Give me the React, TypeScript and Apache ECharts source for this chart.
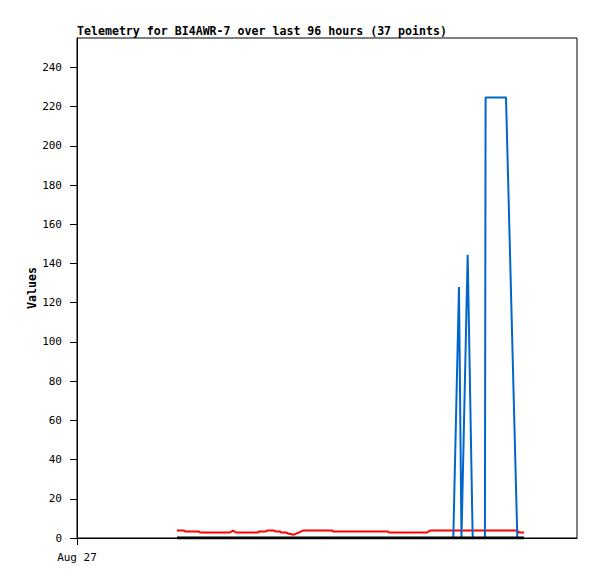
import React, { useEffect, useRef } from "react";
import * as echarts from "echarts";

const TITLE = "Telemetry for BI4AWR-7 over last 96 hours (37 points)";
const Y_NAME = "Values";
const X_LABEL = "Aug 27";

// hours since Aug 27 00:00
const hours = [
  19.2, 20.54, 20.74, 23.42, 23.62, 29.38, 29.95, 30.53, 34.75, 34.94, 36.29, 36.48,
  37.82, 38.21, 38.98, 39.17, 40.13, 40.51, 41.66, 43.39, 48.96, 49.15, 59.71, 59.9,
  67.2, 67.78, 72.25, 73.34, 73.82, 75.01, 75.97, 78.32, 78.45, 82.37, 84.54, 84.86, 85.82,
];
const redValues = [
  3.8, 3.8, 3.3, 3.3, 2.8, 2.8, 3.8, 2.8, 2.8, 3.3, 3.3, 3.8,
  3.8, 3.3, 3.3, 2.8, 2.8, 2.3, 1.7, 3.8, 3.8, 3.3, 3.3, 2.8,
  2.8, 3.8, 3.8, 3.8, 3.8, 3.8, 3.8, 3.8, 3.8, 3.8, 3.8, 2.8, 2.8,
];
const blueValues = [
  0, 0, 0, 0, 0, 0, 0, 0, 0, 0, 0, 0,
  0, 0, 0, 0, 0, 0, 0, 0, 0, 0, 0, 0,
  0, 0, 0, 128, 0, 144.5, 0, 0, 224.7, 224.7, 0, 0, 0,
];
const blackValues = hours.map(() => 0);
const yTicks = [0, 20, 40, 60, 80, 100, 120, 140, 160, 180, 200, 220, 240];

const FONT = "DejaVu Sans Mono";

export default function App() {
  const ref = useRef<HTMLDivElement>(null);
  useEffect(() => {
    if (!ref.current) return;
    const chart = echarts.init(ref.current, undefined, { renderer: "svg" });
    const pair = (vals: number[]) => hours.map((h, i) => [h, vals[i]]);
    chart.setOption({
      animation: false,
      backgroundColor: "#ffffff",
      title: {
        text: TITLE,
        left: 77,
        top: 25,
        padding: 0,
        textStyle: { fontFamily: FONT, fontSize: 11.6, fontWeight: "bold", color: "#000" },
      },
      grid: {
        left: 77,
        top: 38,
        width: 500,
        height: 500,
        show: true,
        borderColor: "#000",
        borderWidth: 1,
        backgroundColor: "transparent",
      },
      xAxis: {
        type: "value",
        min: 0,
        max: 96,
        splitLine: { show: false },
        axisLine: { show: true, lineStyle: { color: "#000", width: 1 } },
        axisTick: { show: true, customValues: [0], length: 7, lineStyle: { color: "#000" } },
        axisLabel: {
          customValues: [0],
          formatter: (v: number) => (v === 0 ? X_LABEL : ""),
          fontFamily: FONT,
          fontSize: 11,
          color: "#000",
          margin: 14,
        },
      },
      yAxis: {
        type: "value",
        min: 0,
        max: 255,
        name: Y_NAME,
        nameLocation: "middle",
        nameRotate: 90,
        nameGap: 39,
        nameMoveOverlap: false,
        nameTextStyle: { fontFamily: FONT, fontSize: 11.6, fontWeight: "bold", color: "#000" },
        splitLine: { show: false },
        axisLine: { show: true, lineStyle: { color: "#000", width: 1 } },
        axisTick: { show: true, customValues: yTicks, length: 7, lineStyle: { color: "#000" } },
        axisLabel: {
          customValues: yTicks,
          fontFamily: FONT,
          fontSize: 11,
          color: "#000",
          margin: 15,
        },
      },
      series: [
        {
          type: "line",
          data: pair(redValues),
          showSymbol: false,
          lineStyle: { color: "#ff0000", width: 2 },
          z: 2,
        },
        {
          type: "line",
          data: pair(blueValues),
          showSymbol: false,
          lineStyle: { color: "#0066cc", width: 2 },
          z: 3,
        },
        {
          type: "line",
          data: pair(blackValues),
          showSymbol: false,
          lineStyle: { color: "#000000", width: 3 },
          z: 4,
        },
      ],
    });
    return () => chart.dispose();
  }, []);
  return (
    <div
      ref={ref}
      style={{ position: "fixed", left: 0, top: 0, width: 597, height: 579 }}
    />
  );
}
